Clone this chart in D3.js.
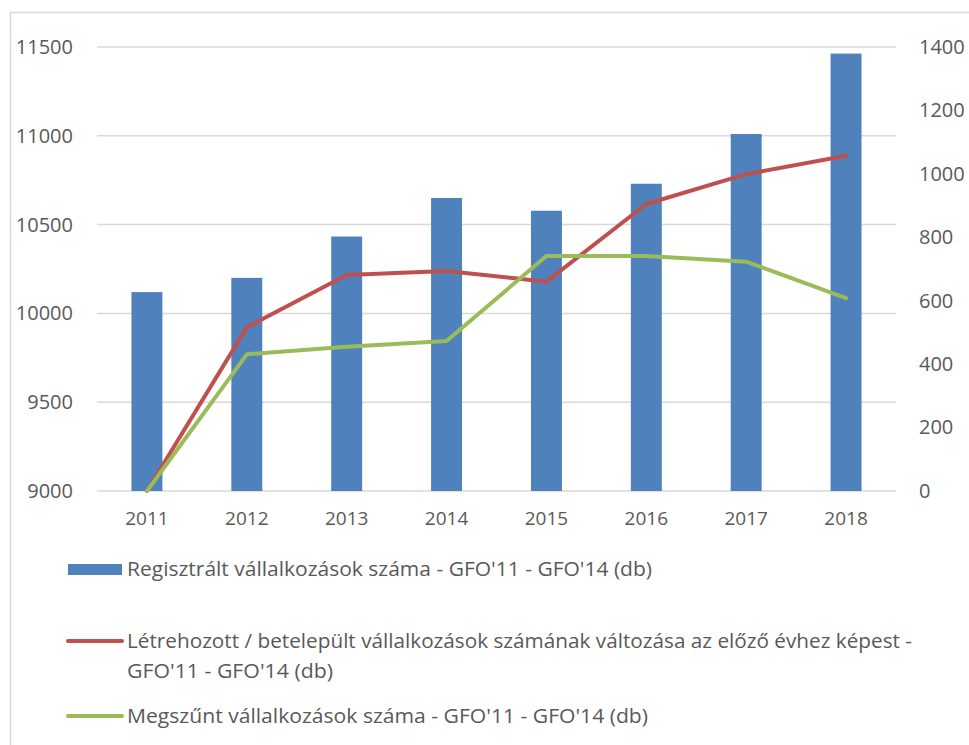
<!DOCTYPE html>
<html lang="en">
<head>
<meta charset="UTF-8">
<title>Vállalkozások</title>
<style>
  body { margin: 0; background: #fff; }
  text { font-family: "Open Sans", "Liberation Sans", sans-serif; fill: #595959; }
</style>
</head>
<body>
<script src="https://d3js.org/d3.v7.min.js"></script>
<div id="chart"></div>
<script>
// data
var years = ["2011", "2012", "2013", "2014", "2015", "2016", "2017", "2018"];
var registered = [10120, 10200, 10433, 10650, 10578, 10730, 11010, 11463];
var created = [0, 516, 681, 694, 660, 905, 999, 1057];
var ceased = [0, 431, 455, 473, 741, 741, 723, 608];
var leftTicks = [9000, 9500, 10000, 10500, 11000, 11500];
var rightTicks = [0, 200, 400, 600, 800, 1000, 1200, 1400];
var legendLabels = [
    ["Regisztrált vállalkozások száma - GFO'11 - GFO'14 (db)"],
    ["Létrehozott / betelepült vállalkozások számának változása az előző évhez képest -", "GFO'11 - GFO'14 (db)"],
    ["Megszűnt vállalkozások száma - GFO'11 - GFO'14 (db)"]
];

var W = 969, H = 745;
var plot = {left: 97, right: 896, top: 47, bottom: 491};

var svg = d3.select("#chart").append("svg")
    .attr("width", W)
    .attr("height", H);

// outer frame (right/bottom edges run off the picture)
svg.append("rect")
    .attr("x", 10.5).attr("y", 12.5)
    .attr("width", 980).attr("height", 760)
    .attr("fill", "none")
    .attr("stroke", "#d9d9d9")
    .attr("stroke-width", 1.5);

var x = d3.scaleBand()
    .domain(years)
    .range([plot.left, plot.right])
    .paddingInner(0.69)
    .paddingOuter(0.345);

var yL = d3.scaleLinear().domain([9000, 11500]).range([plot.bottom, plot.top]);
var yR = d3.scaleLinear().domain([0, 1400]).range([plot.bottom, plot.top]);

// gridlines
svg.append("g")
    .selectAll("line")
    .data(leftTicks)
    .enter()
    .append("line")
    .attr("x1", plot.left)
    .attr("x2", plot.right)
    .attr("y1", function(d) { return yL(d); })
    .attr("y2", function(d) { return yL(d); })
    .attr("stroke", "#d9d9d9")
    .attr("stroke-width", 1.5);

// left axis
var leftAxis = svg.append("g")
    .attr("transform", "translate(73,0)")
    .call(d3.axisLeft(yL).tickValues(leftTicks).tickSize(0).tickPadding(0).tickFormat(d3.format("d")));
leftAxis.select(".domain").remove();
leftAxis.selectAll("text").style("font-size", "20px").attr("fill", "#595959");

// right axis
var rightAxis = svg.append("g")
    .attr("transform", "translate(919,0)")
    .call(d3.axisRight(yR).tickValues(rightTicks).tickSize(0).tickPadding(0).tickFormat(d3.format("d")));
rightAxis.select(".domain").remove();
rightAxis.selectAll("text").style("font-size", "20px").attr("fill", "#595959");

// bottom axis labels
var bottomAxis = svg.append("g")
    .attr("transform", "translate(0," + (plot.bottom + 20) + ")")
    .call(d3.axisBottom(x).tickSize(0).tickPadding(0));
bottomAxis.select(".domain").remove();
bottomAxis.selectAll("text").style("font-size", "19px").attr("fill", "#595959");

// bars
svg.append("g")
    .selectAll("rect")
    .data(registered)
    .enter()
    .append("rect")
    .attr("x", function(d, i) { return x(years[i]); })
    .attr("width", x.bandwidth())
    .attr("y", function(d) { return yL(d); })
    .attr("height", function(d) { return plot.bottom - yL(d); })
    .attr("fill", "#4f81bd");

// lines
var line = d3.line()
    .x(function(d, i) { return x(years[i]) + x.bandwidth() / 2; })
    .y(function(d) { return yR(d); });

svg.append("path")
    .datum(created)
    .attr("d", line)
    .attr("fill", "none")
    .attr("stroke", "#c0504d")
    .attr("stroke-width", 4)
    .attr("stroke-linejoin", "round")
    .attr("stroke-linecap", "round");

svg.append("path")
    .datum(ceased)
    .attr("d", line)
    .attr("fill", "none")
    .attr("stroke", "#9bbb59")
    .attr("stroke-width", 4)
    .attr("stroke-linejoin", "round")
    .attr("stroke-linecap", "round");

// legend
var legendY = [569, 641, 716];
var legendW = [[525], [785, 206], [521]];
var legendColors = ["#4f81bd", "#c0504d", "#9bbb59"];

legendLabels.forEach(function(lines, i) {
    var g = svg.append("g");
    if (i === 0) {
        g.append("rect")
            .attr("x", 68).attr("y", legendY[i] - 5)
            .attr("width", 54).attr("height", 11)
            .attr("fill", legendColors[i]);
    } else {
        g.append("line")
            .attr("x1", 68).attr("x2", 122)
            .attr("y1", legendY[i]).attr("y2", legendY[i])
            .attr("stroke", legendColors[i])
            .attr("stroke-width", 4)
            .attr("stroke-linecap", "round");
    }
    lines.forEach(function(t, j) {
        g.append("text")
            .attr("x", 127)
            .attr("y", legendY[i] + j * 30)
            .attr("dy", "0.35em")
            .attr("textLength", legendW[i][j])
            .attr("lengthAdjust", "spacingAndGlyphs")
            .style("font-size", "20px")
            .text(t);
    });
});
</script>
</body>
</html>
